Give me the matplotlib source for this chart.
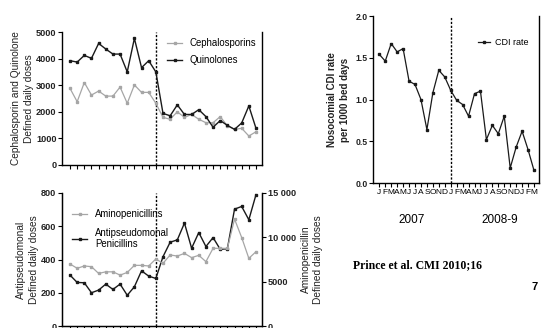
import numpy as np
import matplotlib
matplotlib.use('Agg')
import matplotlib.pyplot as plt
from matplotlib.ticker import FuncFormatter

months = list('JFMAMJJASONDJFMAMJJASONDJFM')
years = ['2007', '2008-9']
split_month = 12

# defined daily doses per month
cephalosporins = [2880, 2380, 3100, 2630, 2780, 2590, 2590, 2930, 2320, 3010, 2730, 2730, 2320,
                  1790, 1720, 2000, 1790, 1900, 1720, 1590, 1590, 1820, 1470, 1340, 1380, 1090, 1250]
quinolones = [3920, 3870, 4120, 4010, 4570, 4360, 4170, 4170, 3500, 4760, 3660, 3920, 3500,
              1940, 1850, 2260, 1900, 1900, 2080, 1820, 1420, 1670, 1490, 1340, 1580, 2220, 1380]
aminopenicillins = [6990, 6510, 6770, 6690, 5930, 6110, 6110, 5740, 6040, 6840, 6840, 6770, 7560,
                    7070, 8010, 7890, 8190, 7710, 7970, 7260, 8760, 8760, 8760, 12060, 9980, 7630, 8380]
antipseudomonal = [306, 262, 260, 200, 216, 252, 220, 252, 185, 236, 332, 300, 286,
                   417, 504, 518, 619, 468, 562, 478, 532, 461, 465, 703, 719, 639, 790]
# nosocomial CDI per 1000 bed days
cdi_rate = [1.54, 1.46, 1.67, 1.57, 1.61, 1.22, 1.18, 1.00, 0.64, 1.08, 1.35, 1.27, 1.11,
            0.99, 0.94, 0.80, 1.07, 1.10, 0.52, 0.69, 0.59, 0.80, 0.18, 0.43, 0.62, 0.40, 0.15]

plt.rcParams['font.family'] = ['Liberation Sans', 'DejaVu Sans']

W, H = 541, 328
fig = plt.figure(figsize=(W / 100, H / 100), dpi=100)
fig.patch.set_facecolor('white')

x = np.arange(len(months))
GRAY = '#a6a6a6'
DARK = '#1a1a1a'
tick_font = dict(fontsize=6.6, fontweight='bold', color='#222222')
label_font = dict(fontsize=7.3, color='#222222')
leg_font = 6.9


def style_axes(ax, xlim):
    ax.spines['top'].set_visible(False)
    for s in ['left', 'bottom', 'right']:
        ax.spines[s].set_linewidth(1.0)
        ax.spines[s].set_color('black')
    ax.set_xlim(*xlim)
    ax.set_xticks(x)
    ax.tick_params(axis='x', direction='out', length=3, width=0.8, labelbottom=False)
    ax.tick_params(axis='y', direction='out', length=3, width=0.8, pad=1)
    ax.axvline(split_month, color='black', lw=1, ls=(0, (1.6, 1.2)), zorder=1)
    for lab in ax.get_yticklabels():
        lab.set(**tick_font)


# top-left: cephalosporins and quinolones
ax1 = fig.add_axes([62 / W, 1 - 165 / H, 200 / W, 133 / H])
ax1.plot(x, cephalosporins, color=GRAY, lw=0.9, marker='s', ms=1.6, label='Cephalosporins', zorder=3)
ax1.plot(x, quinolones, color=DARK, lw=1.0, marker='s', ms=1.8, label='Quinolones', zorder=4)
ax1.set_ylim(0, 5000)
ax1.set_yticks(range(0, 5001, 1000))
style_axes(ax1, (-1.12, 26.84))
ax1.set_ylabel('Cephalosporin and Quinolone\nDefined daily doses', labelpad=1.5, linespacing=1.35, **label_font)
ax1.legend(loc='upper left', bbox_to_anchor=(0.525, 0.955), frameon=False, fontsize=leg_font,
           borderpad=0, borderaxespad=0, handlelength=1.6, handletextpad=0.8, labelspacing=0.75)

# bottom-left: aminopenicillins (right axis) and antipseudomonal penicillins
ax2 = fig.add_axes([62 / W, 1 - 326 / H, 200 / W, 133 / H])
ax2r = ax2.twinx()
l_amino, = ax2r.plot(x, aminopenicillins, color=GRAY, lw=0.9, marker='s', ms=1.6, label='Aminopenicillins')
l_anti, = ax2.plot(x, antipseudomonal, color=DARK, lw=1.0, marker='s', ms=1.8,
                   label='Antipseudomonal\nPenicillins', zorder=4)
ax2.set_ylim(0, 800)
ax2.set_yticks(range(0, 801, 200))
ax2r.set_ylim(0, 15000)
ax2r.set_yticks([0, 5000, 10000, 15000])
ax2r.yaxis.set_major_formatter(FuncFormatter(
    lambda v, p: '{:,}'.format(int(v)).replace(',', ' ') if v >= 10000 else '%d' % v))
style_axes(ax2, (-1.12, 26.84))
ax2r.spines['top'].set_visible(False)
ax2r.tick_params(axis='y', direction='out', length=3, width=0.8, pad=1)
for lab in ax2r.get_yticklabels():
    lab.set(**tick_font)
ax2.set_ylabel('Antipseudomonal\nDefined daily doses', labelpad=1.5, linespacing=1.35, **label_font)
ax2r.set_ylabel('Aminopenicillin\nDefined daily doses', labelpad=3.5, linespacing=1.35, **label_font)
ax2.legend(handles=[l_amino, l_anti], loc='upper left', bbox_to_anchor=(0.05, 0.88), frameon=False,
           fontsize=leg_font, borderpad=0, borderaxespad=0, handlelength=1.6, handletextpad=0.8,
           labelspacing=0.9)

# right: CDI rate
ax3 = fig.add_axes([373 / W, 1 - 183 / H, 166 / W, 167 / H])
ax3.plot(x, cdi_rate, color=DARK, lw=0.9, marker='s', ms=1.6, label='CDI rate')
ax3.set_ylim(0, 2.0)
ax3.set_yticks([0, 0.5, 1.0, 1.5, 2.0])
ax3.yaxis.set_major_formatter(FuncFormatter(lambda v, p: '%.1f' % v))
style_axes(ax3, (-1.06, 26.84))
for lab in ax3.get_yticklabels():
    lab.set(fontsize=6.2)
ax3.set_xticklabels(months, fontsize=6)
ax3.tick_params(axis='x', labelbottom=True, pad=1.5)
ax3.set_ylabel('Nosocomial CDI rate\nper 1000 bed days', labelpad=4, linespacing=1.3,
               fontsize=7, fontweight='bold', color='#222222')
ax3.legend(loc='upper left', bbox_to_anchor=(0.63, 0.87), frameon=False, fontsize=6.5,
           borderpad=0, borderaxespad=0, handlelength=1.35, handletextpad=0.6)
for yr, xc in zip(years, [5.5, 20.3]):
    ax3.annotate(yr, xy=(xc, -0.22), xycoords=('data', 'axes fraction'),
                 ha='center', va='center', fontsize=8.5)

fig.text(353 / W, 1 - 265 / H, 'Prince et al. CMI 2010;16', ha='left', va='center',
         fontsize=8.5, fontweight='bold', family='Liberation Serif')
fig.text(535 / W, 1 - 287 / H, '7', ha='center', va='center', fontsize=8, fontweight='bold')

fig.savefig('out.png', dpi=100)
